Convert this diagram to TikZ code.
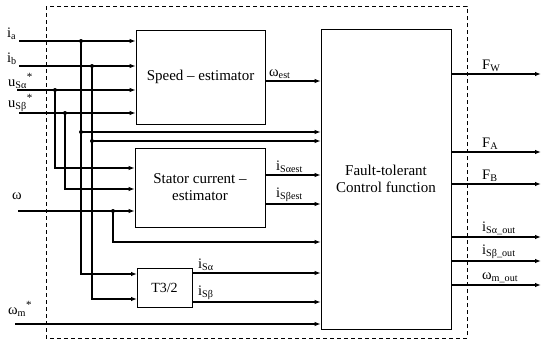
\documentclass[tikz,border=0pt]{standalone}
\usepackage{fontspec}
\setmainfont{Liberation Serif}
\usetikzlibrary{arrows.meta,calc}
\newcommand{\lsub}[1]{\textsubscript{#1}}
\newcommand{\lstar}{\raisebox{0.9ex}{\fontsize{11}{12}\selectfont *}}
\begin{document}
\begin{tikzpicture}[x=1pt,y=-1pt,
  blockbox/.style={draw,line width=0.8pt,inner sep=0pt,font=\fontsize{15}{17}\selectfont,align=center},
  wire/.style={line width=1.1pt},
  arr/.style={wire,-{Latex[length=6pt,width=4.5pt]}},
  lbl/.style={font=\fontsize{14.5}{16}\selectfont,inner sep=0pt},
  dot/.style={circle,fill,inner sep=0pt,minimum size=4pt}]
\useasboundingbox (0,0) rectangle (542,340);

% system boundary
\draw[dashed,dash pattern=on 4pt off 3pt,line width=0.7pt] (46,6) rectangle (467,338);

% blocks
\node[blockbox,minimum width=129pt,minimum height=94pt] (speed) at (200.5,77) {Speed -- estimator};
\node[blockbox,minimum width=130pt,minimum height=79pt] (stator) at (200,187.5) {Stator current --\\estimator};
\node[blockbox,minimum width=55pt,minimum height=39pt,font=\fontsize{14}{16}\selectfont] (trans) at (164.5,287.5) {T3/2};
\node[blockbox,minimum width=130pt,minimum height=300pt] (ftc) at (386,179) {Fault-tolerant\\Control function};

% input start points
\coordinate (ia) at (19,41);
\coordinate (ib) at (19,66);
\coordinate (ua) at (17,90);
\coordinate (ub) at (19,113);
\coordinate (w) at (18,211);
\coordinate (wm) at (15,324);

% branch points
\coordinate (ja) at (81,41);
\coordinate (jb) at (92,66);
\coordinate (jua) at (55,90);
\coordinate (jub) at (65,113);
\coordinate (jw) at (113,211);

% inputs to the speed estimator
\draw[arr] (ia) -- (ia -| speed.west);
\draw[arr] (ib) -- (ib -| speed.west);
\draw[arr] (ua) -- (ua -| speed.west);
\draw[arr] (ub) -- (ub -| speed.west);

% measured currents to the control function and to T3/2
\draw[wire] (ja) -- ($(ja)+(0,91)$) coordinate (ka);
\draw[arr] (ka) -- (ka -| ftc.west);
\draw[wire] (jb) -- ($(jb)+(0,75)$) coordinate (kb);
\draw[arr] (kb) -- (kb -| ftc.west);
\coordinate (ta) at (137,274);
\coordinate (tb) at (137,299);
\draw[arr] (ka) |- (ta);
\draw[arr] (kb) |- (tb);

% voltage references to the stator current estimator
\draw[arr] (jua) |- (stator.west |- 0,168);
\draw[arr] (jub) |- (stator.west |- 0,189);

% speed input
\draw[arr] (w) -- (w -| stator.west);
\draw[arr] (jw) |- (ftc.west |- 0,242);

% speed reference
\draw[arr] (wm) -- (wm -| ftc.west);

% block outputs
\draw[arr] (speed.east |- 0,81) coordinate (oe) -- (ftc.west |- oe);
\draw[arr] (stator.east |- 0,175) coordinate (oa) -- (ftc.west |- oa);
\draw[arr] (stator.east |- 0,204) coordinate (ob) -- (ftc.west |- ob);
\draw[arr] (trans.east |- 0,273) coordinate (toa) -- (ftc.west |- toa);
\draw[arr] (trans.east |- 0,302) coordinate (tob) -- (ftc.west |- tob);

% control outputs
\foreach \yy/\nm in {74/fw,152/fa,184/fb,237/oia,261/oib,285/owm}{
  \coordinate (\nm) at (541,\yy);
  \draw[arr] (ftc.east |- \nm) -- (\nm);
}

% junction dots
\foreach \p in {ja,jb,jua,jub,ka,kb,jw}{\node[dot] at (\p) {};}

% input labels
\node[lbl,anchor=south west] (la) at (7,40) {i\lsub{a}};
\node[lbl,anchor=south west] (lb) at (7,65) {i\lsub{b}};
\node[lbl,anchor=south west] (lua) at (8,89) {u\lsub{Sα}\lstar};
\node[lbl,anchor=south west] (lub) at (8,112) {u\lsub{Sβ}\lstar};
\node[lbl,anchor=south west] (lw) at (12,200) {ω};
\node[lbl,anchor=south west] (lwm) at (8,317) {ω\lsub{m}\lstar};

% internal labels
\node[lbl,anchor=south west] (le) at (269,79) {ω\lsub{est}};
\node[lbl,anchor=south west] (lia) at (276,173) {i\lsub{Sαest}};
\node[lbl,anchor=south west] (lib) at (276,202) {i\lsub{Sβest}};
\node[lbl,anchor=south west] (lta) at (198,271) {i\lsub{Sα}};
\node[lbl,anchor=south west] (ltb) at (198,300) {i\lsub{Sβ}};

% output labels
\node[lbl,anchor=south west] (lfw) at (482,72) {F\lsub{W}};
\node[lbl,anchor=south west] (lfa) at (482,150) {F\lsub{A}};
\node[lbl,anchor=south west] (lfb) at (482,182) {F\lsub{B}};
\node[lbl,anchor=south west] (loa) at (482,235) {i\lsub{Sα\_out}};
\node[lbl,anchor=south west] (lob) at (482,259) {i\lsub{Sβ\_out}};
\node[lbl,anchor=south west] (low) at (482,283) {ω\lsub{m\_out}};
\end{tikzpicture}
\end{document}
